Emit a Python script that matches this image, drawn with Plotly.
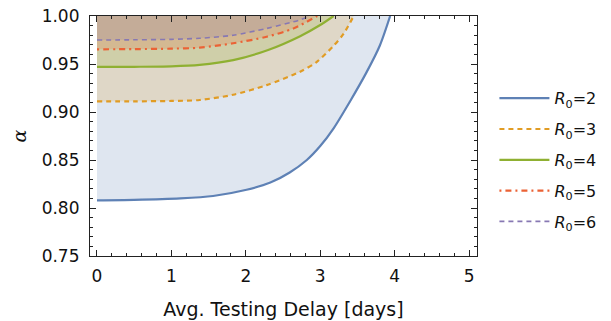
import plotly.graph_objects as go

# Data
delay_r2 = [0.0, 0.5, 1.12, 1.56, 2.01, 2.33, 2.59, 2.82, 3.0, 3.18, 3.40, 3.62, 3.80, 3.94]
alpha_r2 = [0.808, 0.8085, 0.810, 0.8125, 0.819, 0.8265, 0.837, 0.850, 0.8645, 0.883, 0.911, 0.941, 0.969, 1.0]

delay_r3 = [0.0, 0.5, 1.0, 1.38, 1.83, 2.28, 2.73, 2.95, 3.18, 3.31, 3.45]
alpha_r3 = [0.911, 0.9111, 0.9115, 0.9125, 0.918, 0.928, 0.942, 0.952, 0.969, 0.981, 1.0]

delay_r4 = [0.0, 0.5, 1.0, 1.38, 1.83, 2.3, 2.73, 3.0, 3.18]
alpha_r4 = [0.947, 0.9471, 0.9475, 0.949, 0.954, 0.9646, 0.979, 0.9906, 1.0]

delay_r5 = [0.0, 0.5, 1.0, 1.38, 1.83, 2.28, 2.64, 2.96]
alpha_r5 = [0.9653, 0.9655, 0.966, 0.967, 0.9716, 0.9784, 0.987, 1.0]

delay_r6 = [0.0, 0.5, 1.0, 1.38, 1.83, 2.28, 2.73, 2.86]
alpha_r6 = [0.975, 0.9752, 0.9757, 0.9768, 0.980, 0.987, 0.996, 1.0]

labels = ["<i>R</i><sub>0</sub>=2", "<i>R</i><sub>0</sub>=3", "<i>R</i><sub>0</sub>=4",
          "<i>R</i><sub>0</sub>=5", "<i>R</i><sub>0</sub>=6"]
x_ticks = [0, 1, 2, 3, 4, 5]
y_ticks = [0.75, 0.80, 0.85, 0.90, 0.95, 1.00]

series = [
    (delay_r2, alpha_r2, "#5E81B5", "solid", 2.2),
    (delay_r3, alpha_r3, "#E19C24", "5px,4px", 2.2),
    (delay_r4, alpha_r4, "#8FB032", "solid", 2.2),
    (delay_r5, alpha_r5, "#EB6235", "2px,4px,6px,4px", 2.2),
    (delay_r6, alpha_r6, "#8778B3", "5px,4px", 1.6),
]

def rgba(hexc, a):
    h = hexc.lstrip("#")
    r, g, b = int(h[0:2], 16), int(h[2:4], 16), int(h[4:6], 16)
    return f"rgba({r},{g},{b},{a})"

fig = go.Figure()

# fills from each curve up to alpha = 1
for d, a, col, dash, w in series:
    fig.add_trace(go.Scatter(x=[d[0], d[-1]], y=[1.0, 1.0], mode="lines",
                             line=dict(width=0), showlegend=False, hoverinfo="skip"))
    fig.add_trace(go.Scatter(x=d, y=a, mode="lines", fill="tonexty",
                             fillcolor=rgba(col, 0.2),
                             line=dict(width=0, shape="spline", smoothing=0.8),
                             showlegend=False, hoverinfo="skip"))

for i, (d, a, col, dash, w) in enumerate(series):
    fig.add_trace(go.Scatter(x=d, y=a, mode="lines", name=labels[i],
                             legendgroup=f"g{i}",
                             line=dict(color=col, width=w, dash=dash,
                                       shape="spline", smoothing=0.8)))

axis_common = dict(
    showline=True, linecolor="#222", linewidth=1.2, mirror="ticks",
    ticks="inside", ticklen=6, tickcolor="#222", tickwidth=1,
    showgrid=False, zeroline=False, automargin=False,
    ticklabeloverflow="allow",
    tickfont=dict(family="DejaVu Sans", size=17, color="#111"),
)

fig.update_xaxes(range=[-0.094, 5.107], tickvals=x_ticks, ticktext=[str(t) for t in x_ticks],
                 minor=dict(ticks="inside", ticklen=3, dtick=0.2, tick0=0, tickcolor="#222", showgrid=False),
                 title=dict(text="Avg. Testing Delay [days]", standoff=18,
                            font=dict(family="DejaVu Sans", size=19, color="#111")),
                 ticklabelstandoff=4, **axis_common)
fig.update_yaxes(range=[0.75, 1.0], tickvals=y_ticks, ticktext=[f"{t:.2f}" for t in y_ticks],
                 minor=dict(ticks="inside", ticklen=3, dtick=0.01, tick0=0.75, tickcolor="#222", showgrid=False),
                 title=dict(text="<i>α</i>", standoff=14,
                            font=dict(family="DejaVu Serif", size=19, color="#111")),
                 ticklabelstandoff=6, **axis_common)

# page body adds an 8px offset, so the figure is sized to fill the rest of the window
fig.update_layout(
    width=603, height=313,
    margin=dict(l=82, r=134, t=8, b=65),
    plot_bgcolor="white", paper_bgcolor="white",
    legend=dict(x=1.045, y=0.728, xanchor="left", yanchor="top",
                font=dict(family="DejaVu Sans", size=16, color="#111"),
                tracegroupgap=7, itemwidth=50, bgcolor="rgba(0,0,0,0)"),
)

fig.write_html("out.html")
